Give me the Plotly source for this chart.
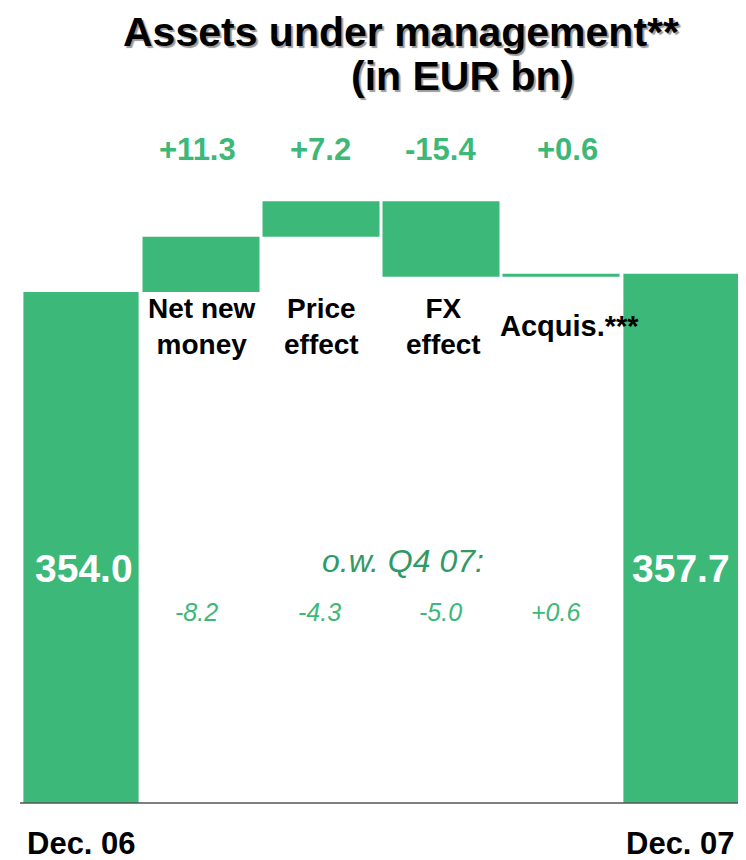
import plotly.graph_objects as go

categories = ["Dec. 06", "Net new money", "Price effect", "FX effect", "Acquis.", "Dec. 07"]
cat_labels = ["", "Net new<br>money", "Price<br>effect", "FX<br>effect", "Acquis.***", ""]
start_value = 354.0
changes = [11.3, 7.2, -15.4, 0.6]
end_value = 357.7
change_labels = ["+11.3", "+7.2", "-15.4", "+0.6"]
q4_title = "o.w. Q4 07:"
q4_labels = ["-8.2", "-4.3", "-5.0", "+0.6"]
title_lines = ["Assets under management**", "(in EUR bn)"]

GREEN = "#3cb878"
DARK_GREEN = "#2f9a66"
FONT = "Liberation Sans, Arial, sans-serif"

# page body has an 8px default margin; compensate
OFF = 8
W, H = 746 - OFF, 860 - OFF
PL, PR, PT, PB = 21, 741, 100, 803  # plot area in page pixels

def pxx(p):
    return (p - PL) / (PR - PL)

def pxy(p):
    return 1 - (p - PT) / (PB - PT)

# floating bases / heights
bases = []
heights = []
level = start_value
for c in changes:
    if c >= 0:
        bases.append(level)
        heights.append(c)
    else:
        bases.append(level + c)
        heights.append(-c)
    level += c

fig = go.Figure()
fig.add_trace(go.Bar(x=[0, 5], y=[start_value, end_value], base=[0, 0],
                     marker=dict(color=GREEN, line=dict(width=0)), width=0.96,
                     hoverinfo="skip"))
fig.add_trace(go.Bar(x=[1, 2, 3, 4], y=heights, base=bases,
                     marker=dict(color=GREEN, line=dict(width=0)), width=0.975,
                     hoverinfo="skip"))

ann = []

def add(text, xp, yp, size, color, shadow=None):
    font = dict(family=FONT, size=size, color=color)
    if shadow:
        font["shadow"] = shadow
    ann.append(dict(text=text, x=pxx(xp), y=pxy(yp), xref="paper", yref="paper",
                    showarrow=False, font=font, xanchor="center", yanchor="middle"))

# title with drop shadow
for txt, xp, yp in zip(title_lines, [401, 462], [32, 76]):
    add(f"<b>{txt}</b>", xp, yp, 41, "black", shadow="2px 2px 1px #9a9a9a")

delta_x = [197, 320, 440, 567]
for lab, xp in zip(change_labels, delta_x):
    add(f"<b>{lab}</b>", xp, 150, 31, GREEN)

cat_x = [202, 321, 443]
for i, xp in zip(range(1, 4), cat_x):
    add(f"<b>{cat_labels[i]}</b>", xp, 326, 28, "black")
add(f"<b>{cat_labels[4]}</b>", 569, 326, 29, "black")

add(f"<b>{start_value:.1f}</b>", 84, 568, 39, "white")
add(f"<b>{end_value:.1f}</b>", 681, 568, 39, "white")

add(f"<i>{q4_title}</i>", 403, 561, 32, DARK_GREEN)
q4_x = [196, 319, 440, 555]
for lab, xp in zip(q4_labels, q4_x):
    add(f"<i>{lab}</i>", xp, 612, 25, GREEN)

add(f"<b>{categories[0]}</b>", 81, 843, 31, "black")
add(f"<b>{categories[5]}</b>", 680, 843, 31, "black")

scale = 4.9  # px per bn
y_min = start_value - (PB - 292) / scale
y_max = start_value + (292 - PT) / scale

fig.update_layout(
    width=W, height=H,
    margin=dict(l=PL - OFF, r=W - (PR - OFF), t=PT - OFF, b=H - (PB - OFF)),
    plot_bgcolor="white", paper_bgcolor="white",
    showlegend=False, barmode="overlay",
    xaxis=dict(range=[-0.5, 5.5], showticklabels=False, showgrid=False, zeroline=False,
               showline=False, fixedrange=True),
    yaxis=dict(range=[y_min, y_max], showticklabels=False, showgrid=False, zeroline=False,
               showline=False, fixedrange=True),
    annotations=ann,
    shapes=[dict(type="line", xref="paper", yref="paper", x0=pxx(20), x1=pxx(745), y0=0, y1=0,
                 line=dict(color="#555555", width=1.5))],
)

fig.write_html("out.html")
